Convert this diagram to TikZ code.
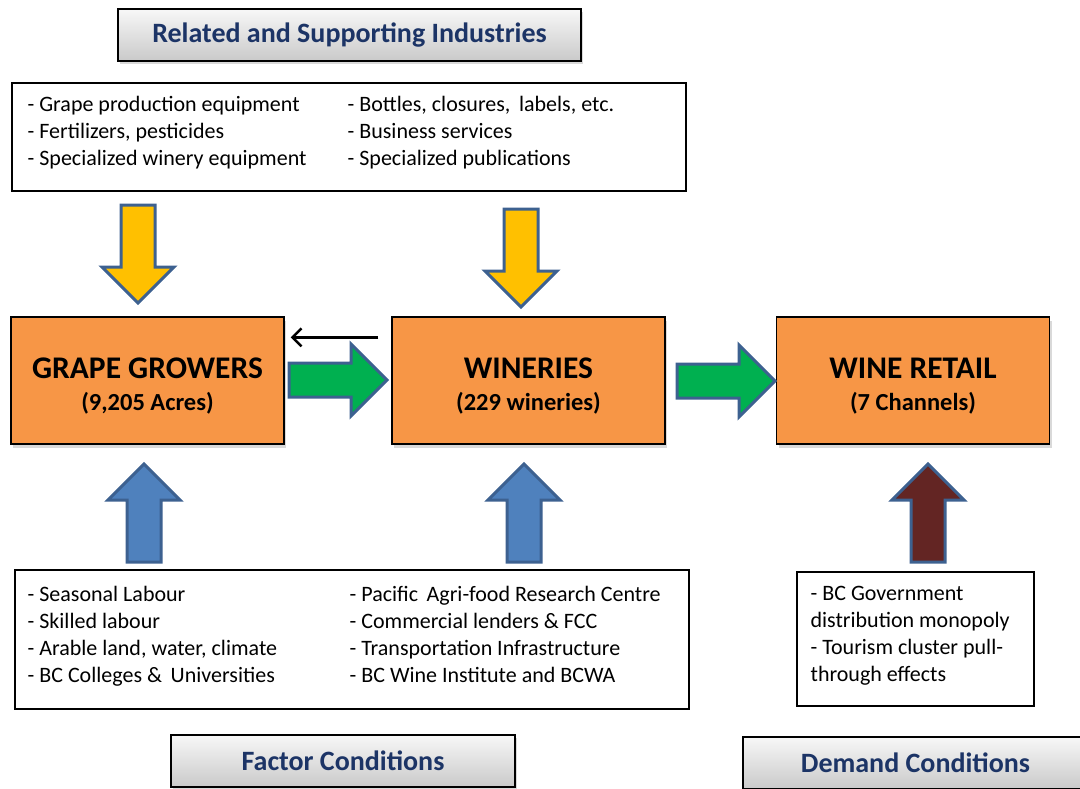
\documentclass[tikz,border=0pt]{standalone}
\usepackage{fontspec}
\setmainfont{Carlito}
\usetikzlibrary{positioning,calc,shadows,arrows.meta}
\definecolor{boxorange}{HTML}{F79646}
\definecolor{titleblue}{HTML}{1C3466}
\definecolor{arrowedge}{HTML}{3D6190}
\definecolor{arrowyellow}{HTML}{FFC000}
\definecolor{arrowgreen}{HTML}{00B050}
\definecolor{arrowblue}{HTML}{4F81BD}
\definecolor{arrowbrown}{HTML}{632523}
\tikzset{
  titlebox/.style={draw=black, line width=1.2pt, top color=gray!6, bottom color=gray!42,
    minimum height=52pt, text=titleblue, font=\fontsize{28}{32}\selectfont\bfseries,
    drop shadow={shadow xshift=2pt, shadow yshift=-3pt, opacity=.3}},
  playerbox/.style={draw=black, line width=1.3pt, fill=boxorange, minimum width=273pt,
    minimum height=127pt, align=center, font=\fontsize{31.5}{32}\selectfont\bfseries,
    drop shadow={shadow xshift=2pt, shadow yshift=-4pt, opacity=.3}},
  listbox/.style={draw=black, line width=1.1pt, fill=white},
  listtext/.style={anchor=north west, inner sep=0pt, align=left, font=\fontsize{22}{27}\selectfont},
  pics/bigarrow/.style={code={
    \draw[line width=3pt, draw=arrowedge, fill=#1] (0,0) -- (36,-36) -- (17,-36) -- (17,-98)
      -- (-17,-98) -- (-17,-36) -- (-36,-36) -- cycle;}},
}
\begin{document}
\begin{tikzpicture}[x=1pt,y=-1pt]
  \useasboundingbox (0,0) rectangle (1080,788);
  % the three players
  \node[playerbox] (grape) at (147.5,380.5) {\rule{0pt}{31pt}GRAPE GROWERS\\{\fontsize{24.5}{28}\selectfont(9,205 Acres)}};
  \node[playerbox] (winery) at (528.5,380.5) {\rule{0pt}{31pt}WINERIES\\{\fontsize{24.5}{28}\selectfont(229 wineries)}};
  \node[playerbox] (retail) at (913,380.5) {\rule{0pt}{31pt}WINE RETAIL\\{\fontsize{24.5}{28}\selectfont(7 Channels)}};
  % related and supporting industries
  \node[titlebox, minimum width=463pt] (related) at (349.5,35) {Related and Supporting Industries};
  \node[listbox, minimum width=674pt, minimum height=108pt] (supplies) at (349,137) {};
  \node[listtext] (supL) at ($(supplies.north west)+(16,14)$) {- Grape production equipment\\- Fertilizers, pesticides\\- Specialized winery equipment};
  \node[listtext] (supR) at ($(supplies.north west)+(336,14)$) {- Bottles, closures,\, labels, etc.\\- Business services\\- Specialized publications};
  % factor conditions
  \node[listbox, minimum width=674pt, minimum height=139pt] (factors) at (352,639.5) {};
  \node[listtext] (facL) at ($(factors.north west)+(13,17)$) {- Seasonal Labour\\- Skilled labour\\- Arable land, water, climate\\- BC Colleges \&\, Universities};
  \node[listtext] (facR) at ($(factors.north west)+(335,17)$) {- Pacific\, Agri-food Research Centre\\- Commercial lenders \& FCC\\- Transportation Infrastructure\\- BC Wine Institute and BCWA};
  \node[titlebox, minimum width=344pt] (factor) at (343,761) {Factor Conditions};
  % demand conditions
  \node[listbox, minimum width=237pt, minimum height=134pt] (demand) at (915.5,639) {};
  \node[listtext] (demT) at ($(demand.north west)+(14,15)$) {- BC Government\\distribution monopoly\\- Tourism cluster pull-\\through effects};
  \node[titlebox, minimum width=345pt] (demcond) at (915.5,763) {Demand Conditions};
  % block arrows
  \pic at (138,303) {bigarrow=arrowyellow};
  \pic at (521,307) {bigarrow=arrowyellow};
  \pic[rotate=180] at (144,464) {bigarrow=arrowblue};
  \pic[rotate=180] at (524,464) {bigarrow=arrowblue};
  \pic[rotate=180] at (928,464) {bigarrow=arrowbrown};
  \pic[rotate=90] at (387,380) {bigarrow=arrowgreen};
  \pic[rotate=90] at (775,381) {bigarrow=arrowgreen};
  \draw[-{Straight Barb[length=9pt,width=18pt]}, line width=2.5pt] ($(winery.north west)+(-13,21)$) -- ($(grape.north east)+(6,21)$);
\end{tikzpicture}
\end{document}
